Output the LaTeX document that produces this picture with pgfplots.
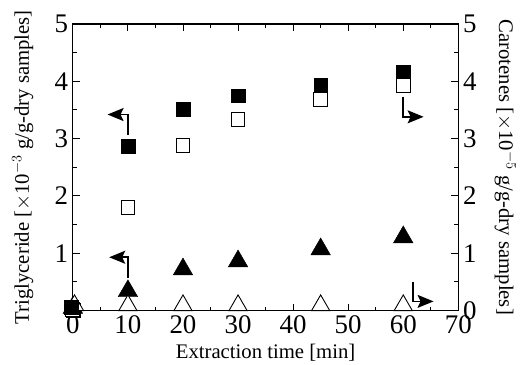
\documentclass[border=0pt]{standalone}
\usepackage{fontspec}
\setmainfont{Liberation Serif}
\usepackage{pgfplots}
\pgfplotsset{compat=1.18}
\usetikzlibrary{arrows.meta}
\begin{document}
\begin{tikzpicture}
\pgfplotsset{
  common/.style={
    scale only axis, width=385.6bp, height=286.7bp,
    xmin=0, xmax=70, ymin=0, ymax=5,
    xtick={0,10,...,70}, ytick={0,1,...,5},
    minor x tick num=1, minor y tick num=1,
    tick align=inside,
    major tick length=7bp, minor tick length=4bp,
    axis line style={line width=1.1pt}, every tick/.style={line width=0.9pt, black},
    tick label style={font=\fontsize{27}{28}\selectfont, inner sep=1.5bp},
    label style={font=\fontsize{20.8}{22}\selectfont},
    /pgf/number format/assume math mode=true,
  }
}
\begin{axis}[common,
  xlabel={Extraction time [min]},
  ylabel={Triglyceride [$\times$10$^{-3}$ g/g-dry samples]},
  yticklabel pos=left,
  yticklabels={,1,2,3,4,5},
  xlabel style={at={(axis description cs:0.5,-0.146)}, anchor=center},
  ylabel style={at={(axis description cs:-0.13,0.5)}, anchor=center, rotate=0},
  xticklabel style={yshift=-3bp},
  yticklabel style={xshift=-3bp},
  clip=false,
]
\path (rel axis cs:-0.189,-0.189) rectangle (rel axis cs:1.16,1.0836);
% Triglyceride (filled squares)
\addplot[only marks, mark=square*, mark size=6.9bp, mark options={fill=black, draw=black}] coordinates {
 (0,0) (10,2.87) (20,3.51) (30,3.75) (45,3.93) (60,4.16)};
% Carotenes (open squares)
\addplot[only marks, mark=square*, mark size=6.9bp, mark options={fill=white, draw=black, line width=1pt}] coordinates {
 (0,0.02) (10,1.80) (20,2.88) (30,3.33) (45,3.68) (60,3.93)};
% Triglyceride (filled triangles)
\addplot[only marks, mark=triangle*, mark size=11.3bp, mark options={fill=black, draw=black}] coordinates {
 (0,0.05) (10,0.34) (20,0.72) (30,0.86) (45,1.07) (60,1.28)};
% Carotenes (open triangles)
\addplot[only marks, mark=triangle*, mark size=10.5bp, mark options={fill=white, draw=black, line width=0.9pt}] coordinates {
 (0.3,0.09) (10,0.09) (20,0.09) (30,0.09) (45,0.09) (60,0.09)};
% filled square at 0 on top
\addplot[only marks, mark=square*, mark size=6.9bp, mark options={fill=black, draw=black}] coordinates {(-0.3,0.06)};
% arrows
\tikzset{myarr/.style={line width=1.6pt, -{Stealth[length=16bp,width=13bp,inset=3bp]}}}
\draw[myarr] (axis cs:10,3.07) -- (axis cs:10,3.42) -- (axis cs:6.3,3.42);
\draw[myarr] (axis cs:10,0.57) -- (axis cs:10,0.93) -- (axis cs:6.6,0.93);
\draw[myarr] (axis cs:59.9,3.73) -- (axis cs:59.9,3.38) -- (axis cs:63.7,3.38);
\draw[myarr] (axis cs:61.8,0.5) -- (axis cs:61.8,0.16) -- (axis cs:65.5,0.16);
\end{axis}
\begin{axis}[common,
  axis x line=none,
  axis y line*=right,
  ylabel={Carotenes [$\times$10$^{-5}$ g/g-dry samples]},
  ylabel style={at={(axis description cs:1.122,0.5)}, anchor=center, rotate=180},
  yticklabel style={xshift=3bp},
]
\end{axis}
\end{tikzpicture}
\end{document}
